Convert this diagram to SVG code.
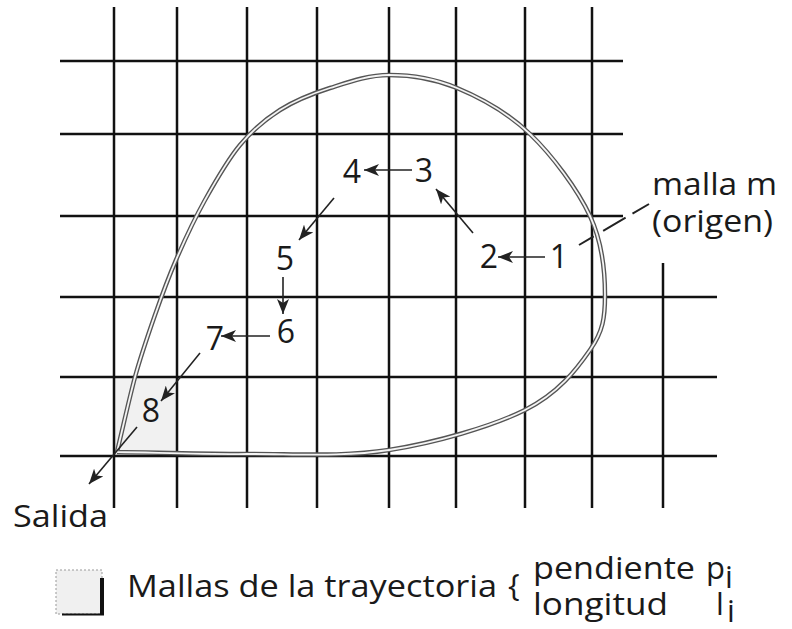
<svg xmlns="http://www.w3.org/2000/svg" width="792" height="629" viewBox="0 0 792 629">
<style>
.grid line{stroke:#111;stroke-width:2.5}
.t{font-family:"Open Sans","Liberation Sans",sans-serif;fill:#1a1a1a;font-size:31px}
.num{text-anchor:middle;font-size:32px}
.arr{stroke:#222;stroke-width:1.6;fill:none;marker-end:url(#ah)}
.tr{fill:none}
</style>
<defs>
<marker id="ah" markerUnits="userSpaceOnUse" markerWidth="16" markerHeight="12" refX="15" refY="6" orient="auto">
<path d="M0,0 L15,6 L0,12 L4,6 z" fill="#222"/>
</marker>
<path id="tp" d="M117,452 C160.3,452.7 201.7,454.3 247,454 C292.3,453.7 342.7,457.3 389,450 C435.3,442.7 491.5,426.7 525,410 C558.5,393.3 576.7,369.2 590,350 C603.3,330.8 605,317.3 605,295 C605,272.7 602.5,242.8 590,216 C577.5,189.2 552.2,155.3 530,134 C507.8,112.7 480.5,97.8 457,88 C433.5,78.2 410.2,75 389,75 C367.8,75 348.2,82.2 330,88 C311.8,93.8 295,100.5 280,110 C265,119.5 252.5,130 240,145 C227.5,160 215.7,180.8 205,200 C194.3,219.2 184.3,240.8 176,260 C167.7,279.2 161.8,295.5 155,315 C148.2,334.5 141.3,354.2 135,377 C128.7,400.8 123,427 117,452"/>
</defs>
<rect width="792" height="629" fill="#fff"/>
<rect x="115" y="378" width="62" height="77" fill="#f1f1f1"/>
<g id="grid" class="grid">
<line x1="114" y1="7" x2="114" y2="508"/>
<line x1="177" y1="7" x2="177" y2="508"/>
<line x1="247" y1="7" x2="247" y2="508"/>
<line x1="317" y1="7" x2="317" y2="508"/>
<line x1="389" y1="7" x2="389" y2="508"/>
<line x1="456" y1="7" x2="456" y2="508"/>
<line x1="525" y1="7" x2="525" y2="508"/>
<line x1="592" y1="7" x2="592" y2="508"/>
<line x1="663" y1="263" x2="663" y2="508"/>
<line x1="60" y1="61" x2="623" y2="61"/>
<line x1="60" y1="134" x2="623" y2="134"/>
<line x1="60" y1="216" x2="623" y2="216"/>
<line x1="60" y1="297" x2="717" y2="297"/>
<line x1="60" y1="377" x2="717" y2="377"/>
<line x1="60" y1="456" x2="717" y2="456"/>
</g>
<g id="trajectory" class="tr">
<use href="#tp" stroke="#555" stroke-width="4.5"/>
<use href="#tp" stroke="#f4f4f4" stroke-width="1.8"/>
</g>
<g id="connectors">
<line class="arr" x1="412" y1="170" x2="364" y2="170"/>
<line class="arr" x1="545" y1="257" x2="498" y2="257"/>
<line class="arr" x1="473" y1="233" x2="436" y2="189"/>
<line class="arr" x1="334" y1="198" x2="299" y2="240"/>
<line class="arr" x1="283" y1="277" x2="283" y2="314"/>
<line class="arr" x1="270" y1="336" x2="221" y2="336"/>
<line class="arr" x1="200" y1="353" x2="161" y2="401"/>
<line class="arr" x1="137" y1="427" x2="89" y2="484"/>
<line x1="579" y1="245" x2="649" y2="204" stroke="#222" stroke-width="2" stroke-dasharray="17 11 26 8 20"/>
</g>
<g id="n1"><text class="t num" x="559" y="268">1</text></g>
<g id="n2"><text class="t num" x="489" y="268">2</text></g>
<g id="n3"><text class="t num" x="424" y="182">3</text></g>
<g id="n4"><text class="t num" x="352" y="183">4</text></g>
<g id="n5"><text class="t num" x="285" y="270">5</text></g>
<g id="n6"><text class="t num" x="286" y="343">6</text></g>
<g id="n7"><text class="t num" x="215" y="350">7</text></g>
<g id="n8"><text class="t num" x="151" y="422">8</text></g>
<g id="origin"><text class="t" x="652" y="195" textLength="125" lengthAdjust="spacingAndGlyphs">malla m</text>
<text class="t" x="652" y="232" textLength="121" lengthAdjust="spacingAndGlyphs">(origen)</text></g>
<g id="salida"><text class="t" x="13" y="527" textLength="95" lengthAdjust="spacingAndGlyphs">Salida</text></g>
<g id="legend">
<rect x="56" y="570" width="46" height="44" fill="#f0f0f0" stroke="#999" stroke-width="1" stroke-dasharray="2 2"/>
<rect x="100" y="578" width="4" height="37" fill="#111"/>
<line x1="62" y1="614.5" x2="104" y2="614.5" stroke="#111" stroke-width="2"/>
<text class="t" x="127" y="597" textLength="370" lengthAdjust="spacingAndGlyphs">Mallas de la trayectoria</text>
<text class="t" x="508" y="596" font-size="28">{</text>
<text class="t" x="533" y="579" font-size="25" textLength="162" lengthAdjust="spacingAndGlyphs">pendiente</text>
<text class="t" x="533" y="615" font-size="25" textLength="135" lengthAdjust="spacingAndGlyphs">longitud</text>
<text class="t" x="706" y="579" font-size="25">p</text>
<text class="t" x="725" y="588" font-size="14">i</text>
<text class="t" x="716" y="615" font-size="25">l</text>
<text class="t" x="727" y="622" font-size="14">i</text>
</g>
</svg>
